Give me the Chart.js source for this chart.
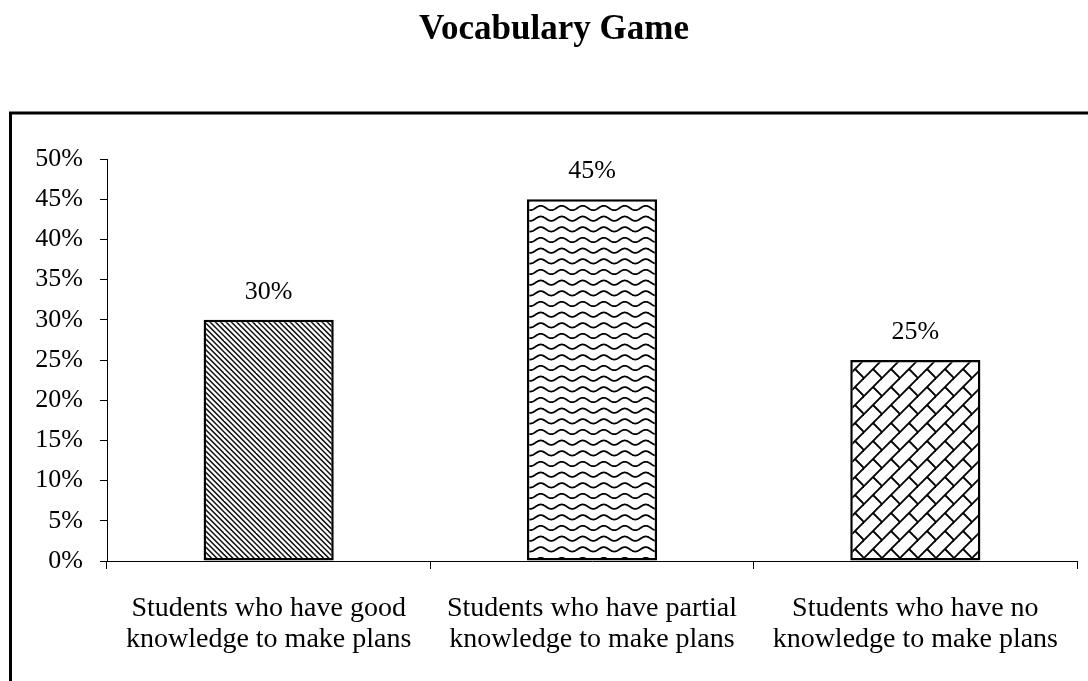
<!DOCTYPE html>
<html><head><meta charset="utf-8">
<script src="https://cdn.jsdelivr.net/npm/chart.js@4/dist/chart.umd.min.js"></script>
<style>html,body{margin:0;padding:0;background:#fff;overflow:hidden}canvas{display:block}</style>
</head><body>
<canvas id="c" width="1088" height="681"></canvas>
<script>
const chartTitle = 'Vocabulary Game';
const categories = [
  ['Students who have good', 'knowledge to make plans'],
  ['Students who have partial', 'knowledge to make plans'],
  ['Students who have no', 'knowledge to make plans']
];
const values = [0.30, 0.45, 0.25];
const valueLabels = ['30%', '45%', '25%'];
const yTickLabels = ['0%', '5%', '10%', '15%', '20%', '25%', '30%', '35%', '40%', '45%', '50%'];

const SERIF = "'Liberation Serif', 'Times New Roman', serif";

function makeTile(w, h, draw) {
  const c = document.createElement('canvas');
  c.width = w; c.height = h;
  const g = c.getContext('2d');
  g.fillStyle = '#fff'; g.fillRect(0, 0, w, h);
  g.strokeStyle = '#000';
  draw(g, w, h);
  return g.createPattern(c, 'repeat');
}

// downward diagonal stripes
const patDiag = makeTile(32, 32, (g) => {
  const p = 32 / 6;
  g.lineWidth = 1.5;
  g.strokeStyle = '#111';
  for (let k = -14; k <= 14; k++) {
    g.beginPath();
    g.moveTo(k * p - 10, -10);
    g.lineTo(k * p + 42, 42);
    g.stroke();
  }
});
// waves
const patWave = makeTile(21, 32, (g, w) => {
  const rowH = 32 / 3;
  g.lineWidth = 1.8;
  for (let r = -1; r <= 3; r++) {
    const y0 = r * rowH + rowH / 2;
    g.beginPath();
    for (let x = -1; x <= w + 1; x += 0.5) {
      const y = y0 + 2.2 * Math.sin(2 * Math.PI * x / w);
      if (x === -1) g.moveTo(x, y); else g.lineTo(x, y);
    }
    g.stroke();
  }
});
// diagonal brick
const patBrick = makeTile(18, 18, (g, S) => {
  g.lineWidth = 1.9;
  for (let k = -1; k <= 3; k++) {
    g.beginPath();
    g.moveTo(-S, k * S + S);
    g.lineTo(k * S + S, -S);
    g.stroke();
  }
  for (let dx = -1; dx <= 1; dx++) {
    for (let dy = -1; dy <= 1; dy++) {
      g.beginPath();
      g.moveTo(S / 2 + dx * S, S / 2 + dy * S);
      g.lineTo(S + dx * S, S + dy * S);
      g.stroke();
    }
  }
});

const framePlugin = {
  id: 'frame',
  beforeDraw(chart) {
    const c = chart.ctx;
    c.save();
    c.fillStyle = '#fff';
    c.fillRect(0, 0, chart.width, chart.height);
    c.strokeStyle = '#000';
    c.lineWidth = 3;
    c.beginPath();
    c.moveTo(10.5, chart.height + 2);
    c.lineTo(10.5, 113);
    c.lineTo(chart.width + 2, 113);
    c.stroke();
    // title
    c.fillStyle = '#000';
    c.font = 'bold 35px ' + SERIF;
    c.textAlign = 'center';
    c.textBaseline = 'alphabetic';
    c.fillText(chartTitle, 554, 39);
    c.restore();
  }
};

const valueLabelPlugin = {
  id: 'valueLabels',
  afterDatasetsDraw(chart) {
    const c = chart.ctx;
    const meta = chart.getDatasetMeta(0);
    c.save();
    c.fillStyle = '#000';
    c.font = '26px ' + SERIF;
    c.textAlign = 'center';
    c.textBaseline = 'alphabetic';
    meta.data.forEach((bar, i) => {
      c.fillText(valueLabels[i], bar.x, bar.y - 21);
    });
    c.restore();
  }
};

new Chart(document.getElementById('c'), {
  type: 'bar',
  data: {
    labels: categories,
    datasets: [{
      data: values,
      backgroundColor: [patDiag, patWave, patBrick],
      borderColor: '#000',
      borderWidth: 2.5,
      borderSkipped: false,
      categoryPercentage: 1,
      barPercentage: 0.4025
    }]
  },
  options: {
    responsive: false,
    animation: false,
    devicePixelRatio: 1,
    layout: { padding: { left: 0, right: 11, top: 159, bottom: 0 } },
    plugins: {
      legend: { display: false },
      tooltip: { enabled: false },
      title: { display: false }
    },
    scales: {
      y: {
        min: 0, max: 0.5,
        afterFit(s) { s.width = 107; },
        ticks: {
          stepSize: 0.05,
          color: '#000',
          padding: 17,
          font: { family: SERIF, size: 26 },
          callback: (v, i) => yTickLabels[i]
        },
        grid: { drawOnChartArea: false, color: '#000', tickLength: 7, tickColor: '#000' },
        border: { display: true, color: '#000', width: 1 }
      },
      x: {
        afterFit(s) { s.height = 120; },
        ticks: {
          color: '#000',
          padding: 24,
          maxRotation: 0,
          font: { family: SERIF, size: 28, lineHeight: 1.1 }
        },
        grid: { offset: true, drawOnChartArea: false, color: '#000', tickLength: 8, tickColor: '#000' },
        border: { display: true, color: '#000', width: 1 }
      }
    }
  },
  plugins: [framePlugin, valueLabelPlugin]
});
</script>
</body></html>
